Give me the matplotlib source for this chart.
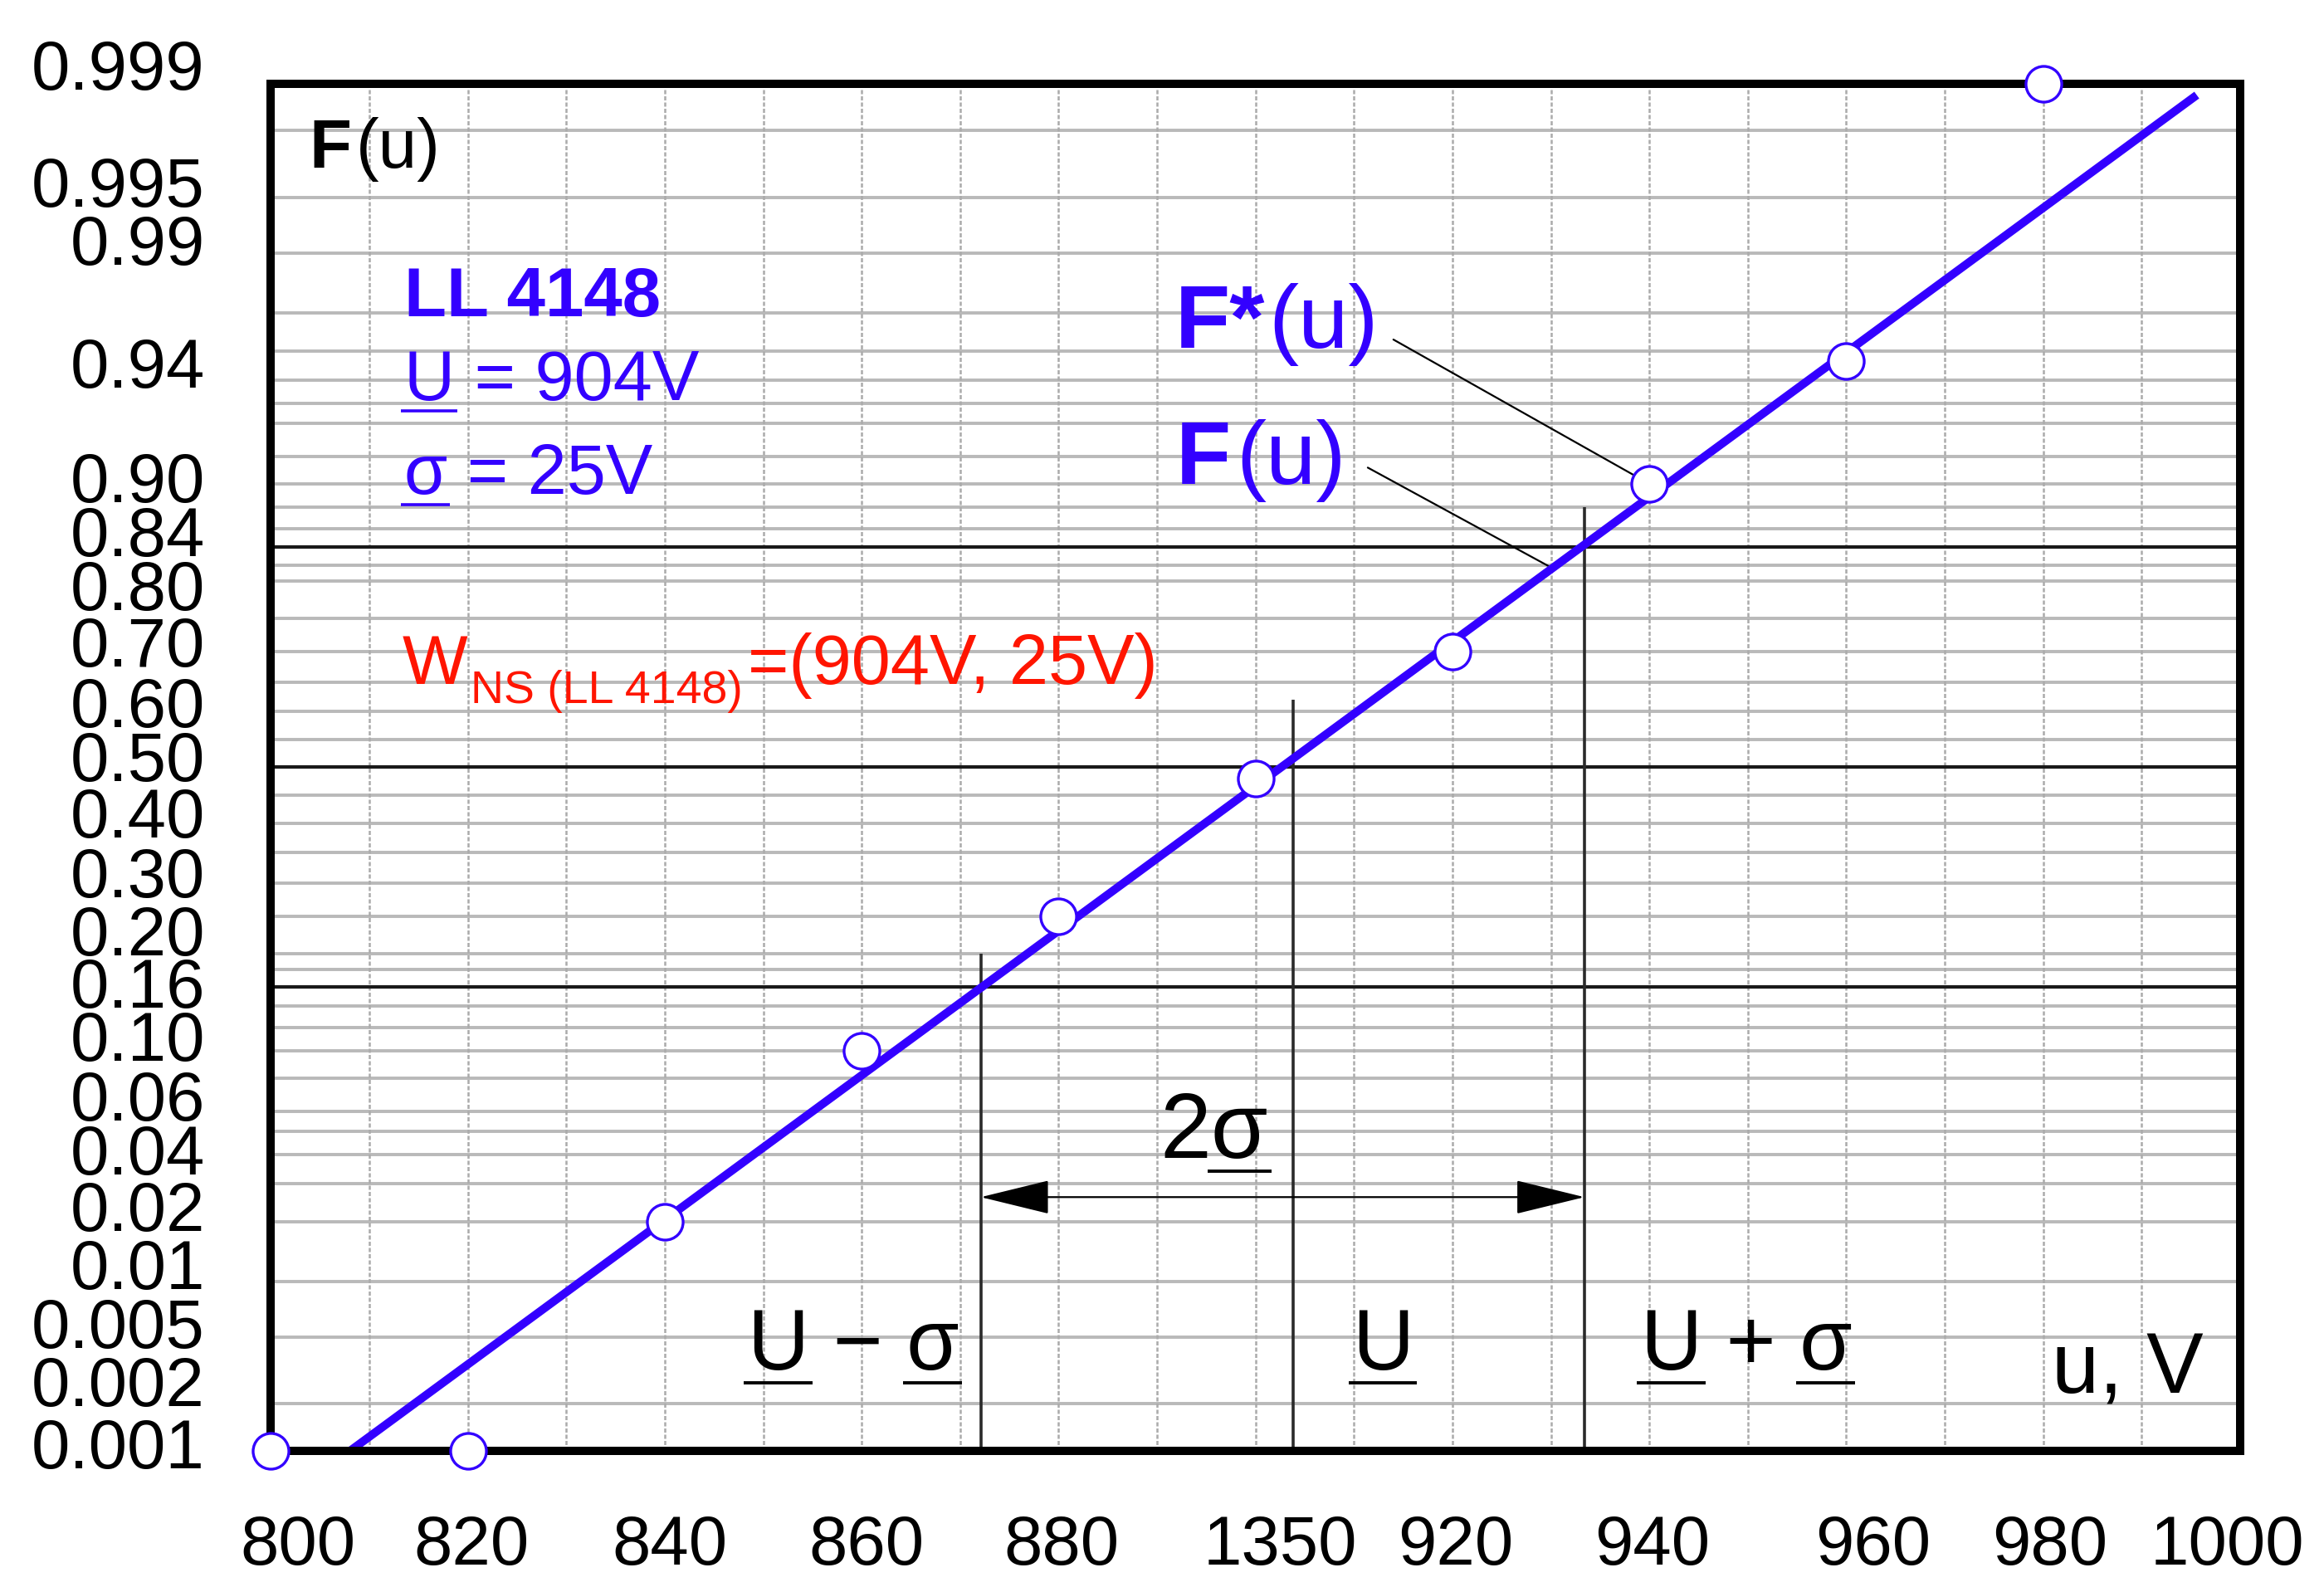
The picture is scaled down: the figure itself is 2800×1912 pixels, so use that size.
import math
import numpy as np
import matplotlib; matplotlib.use("Agg")
import matplotlib.pyplot as plt
from matplotlib.patches import FancyArrowPatch, ArrowStyle
from matplotlib.transforms import blended_transform_factory as blend, offset_copy

plt.rcParams['font.family'] = ['Liberation Sans', 'DejaVu Sans']
BLUE = '#3300ff'; RED = '#ff1500'

U_POINTS = [800, 820, 840, 860, 880, 900, 920, 940, 960, 980]
F_POINTS = [0.001, 0.001, 0.02, 0.10, 0.25, 0.48, 0.70, 0.90, 0.967, 0.999]

# normal line F(u) as drawn on the paper
LINE_MEAN = 902.6
LINE_SIGMA = 30.6
LINE_U = [808.0, 995.6]

# U-sigma, U, U+sigma markers and how high their lines reach
MARK_U = [872.1, 903.8, 933.4]
MARK_TOP_F = [0.20, 0.62, 0.88]
ARROW_F = 0.026

# probability paper rulings
GRID_F = [0.002, 0.005, 0.01, 0.02, 0.03, 0.04, 0.05, 0.06, 0.08, 0.10, 0.12, 0.14,
          0.18, 0.20, 0.25, 0.30, 0.35, 0.40, 0.45, 0.55, 0.60, 0.65, 0.70, 0.75,
          0.80, 0.82, 0.86, 0.88, 0.90, 0.92, 0.94, 0.95, 0.96, 0.97, 0.98, 0.99,
          0.995, 0.998]
MAIN_F = [0.16, 0.50, 0.84]
VGRID_U = list(range(810, 1000, 10))

Y_LABELS = ['0.999', '0.995', '0.99', '0.94', '0.90', '0.84', '0.80', '0.70', '0.60',
            '0.50', '0.40', '0.30', '0.20', '0.16', '0.10', '0.06', '0.04', '0.02',
            '0.01', '0.005', '0.002', '0.001']
# where the printed labels sit (probit units, as on the original sheet)
Y_LABEL_Z = [3.176, 2.647, 2.384, 1.827, 1.311, 1.068, 0.822, 0.569, 0.294, 0.050,
             -0.206, -0.476, -0.739, -0.975, -1.217, -1.487, -1.730, -1.986, -2.246,
             -2.512, -2.775, -3.056]
X_TICKS = [800, 820, 840, 860, 880, 900, 920, 940, 960, 980, 1000]
X_LABELS = ['800', '820', '840', '860', '880', '1350', '920', '940', '960', '980', '1000']
X_LABEL_SHIFT = [2.7, 0.4, 0.5, 0.5, 0.3, 2.5, 0.3, 0.3, 2.7, 0.7, -1.3]


def probit(p):
    # inverse normal cdf by bisection (no scipy)
    lo, hi = -9.0, 9.0
    for _ in range(80):
        mid = 0.5 * (lo + hi)
        if 0.5 * math.erfc(-mid / math.sqrt(2)) < p: lo = mid
        else: hi = mid
    return 0.5 * (lo + hi)

def zs(ps): return np.array([probit(p) for p in ps])


fig = plt.figure(figsize=(14, 9.56), dpi=200); fig.patch.set_facecolor('white')
ax = fig.add_axes([0.1166, 0.0858, 0.8473, 0.8614])
zlo, zhi = probit(0.001), probit(0.999)
ax.set_xlim(800, 1000); ax.set_ylim(zlo, zhi)
ax.set_xticks([]); ax.set_yticks([])
for s in ax.spines.values():
    s.set_linewidth(3.6); s.set_zorder(6)

# rulings
for z in zs(GRID_F): ax.axhline(z, color='#b9b9b9', lw=1.4, zorder=1)
for u in VGRID_U: ax.axvline(u, color='#ababab', lw=0.9, ls=(0, (2, 1)), zorder=1)
for z in zs(MAIN_F): ax.axhline(z, color='#1a1a1a', lw=1.5, zorder=2)
ax.vlines(MARK_U, zlo, zs(MARK_TOP_F), color='#2a2a2a', lw=1.3, zorder=2)

# fitted line + points
lu = np.array(LINE_U)
ax.plot(lu, (lu - LINE_MEAN) / LINE_SIGMA, color=BLUE, lw=3.6, zorder=4, solid_capstyle='butt')
ax.plot(U_POINTS, zs(F_POINTS), 'o', ms=15.5, mfc='white', mec=BLUE, mew=1.2, zorder=7, clip_on=False)

# axis labels
yt = offset_copy(blend(ax.transAxes, ax.transData), fig=fig, y=-10.7, units='points')
for lab, z in zip(Y_LABELS, Y_LABEL_Z):
    ax.text(-0.0336, z, lab, transform=yt, ha='right', va='baseline', fontsize=30, clip_on=False)
xt = offset_copy(blend(ax.transData, ax.transAxes), fig=fig, y=-49.5, units='points')
for v, sh, lab in zip(X_TICKS, X_LABEL_SHIFT, X_LABELS):
    ax.text(v + sh, 0, lab, transform=xt, ha='center', va='baseline', fontsize=30, clip_on=False)

R = fig.canvas.get_renderer()
inv = ax.transData.inverted()

def chain(u, z, pieces, color):
    x, y = ax.transData.transform((u, z))
    for s, kw, dy, gap in pieces:
        px, py = inv.transform((x, y + dy))
        t = ax.text(px, py, s, va='baseline', color=color, zorder=8, **kw)
        x = t.get_window_extent(R).x1 + gap

def uline(t, sub, first, color, lw):
    bb = t.get_window_extent(R)
    probe = ax.text(0, 0, sub, fontproperties=t.get_fontproperties())
    w = probe.get_window_extent(R).width; probe.remove()
    fs = t.get_fontsize() * fig.dpi / 72
    x0 = (bb.x0 if first else bb.x1 - w) - 0.04 * fs
    x1 = x0 + w + 0.08 * fs
    y = ax.transData.transform(t.get_position())[1] - 0.15 * fs
    (a, b), (c, d) = inv.transform([(x0, y), (x1, y)])
    ax.plot([a, c], [b, d], color=color, lw=lw, clip_on=False, solid_capstyle='butt', zorder=8)

def utext(u, z, s, size, color, marks, lw):
    t = ax.text(u, z, s, fontsize=size, color=color, va='baseline', zorder=8)
    for first in marks:
        uline(t, s[0] if first else s[-1], first, color, lw)
    return t

# texts
chain(803.9, 2.712, [("F", dict(fontsize=30, weight='bold'), 0, 5),
                     ("(u)", dict(fontsize=30), 0, 0)], 'black')
ax.text(813.5, 2.038, "LL 4148", fontsize=30, weight='bold', color=BLUE, va='baseline')
utext(813.5, 1.659, "U = 904V", 30.5, BLUE, [True], 1.3)
utext(813.5, 1.237, "σ = 25V", 30.5, BLUE, [True], 1.3)
chain(813.3, 0.376, [("W", dict(fontsize=30), 0, 4),
                     ("NS (LL 4148)", dict(fontsize=20), -22.4, 6),
                     ("=(904V, 25V)", dict(fontsize=30.5), 0, 0)], RED)
chain(891.8, 1.895, [("F*", dict(fontsize=39, weight='bold'), 0, 4),
                     ("(u)", dict(fontsize=39), 0, 0)], BLUE)
chain(891.9, 1.283, [("F", dict(fontsize=39, weight='bold'), 0, 6),
                     ("(u)", dict(fontsize=39), 0, 0)], BLUE)

# leaders
ax.annotate('', xy=(940, probit(0.90)), xytext=(914.0, 1.934),
            arrowprops=dict(arrowstyle='-', lw=0.8, color='k', shrinkA=0, shrinkB=7))
ax.annotate('', xy=(930.15, (930.15 - LINE_MEAN) / LINE_SIGMA), xytext=(911.4, 1.355),
            arrowprops=dict(arrowstyle='-', lw=0.8, color='k', shrinkA=0, shrinkB=0))

# 2 sigma span
za = probit(ARROW_F)
ax.add_patch(FancyArrowPatch((MARK_U[0], za), (MARK_U[2], za),
             arrowstyle=ArrowStyle('<|-|>', head_length=0.9, head_width=0.22),
             mutation_scale=30, lw=0.8, color='black', shrinkA=0, shrinkB=0, zorder=5))
utext(890.3, -1.764, "2σ", 40, 'black', [False], 1.4)

utext(848.4, -2.724, "U − σ", 37, 'black', [True, False], 1.4)
utext(909.8, -2.724, "U", 37, 'black', [True], 1.4)
utext(939.1, -2.724, "U + σ", 37, 'black', [True, False], 1.4)
ax.text(980.9, -2.828, "u, V", fontsize=37, va='baseline')

fig.savefig("out.png", dpi=200, facecolor='white')
